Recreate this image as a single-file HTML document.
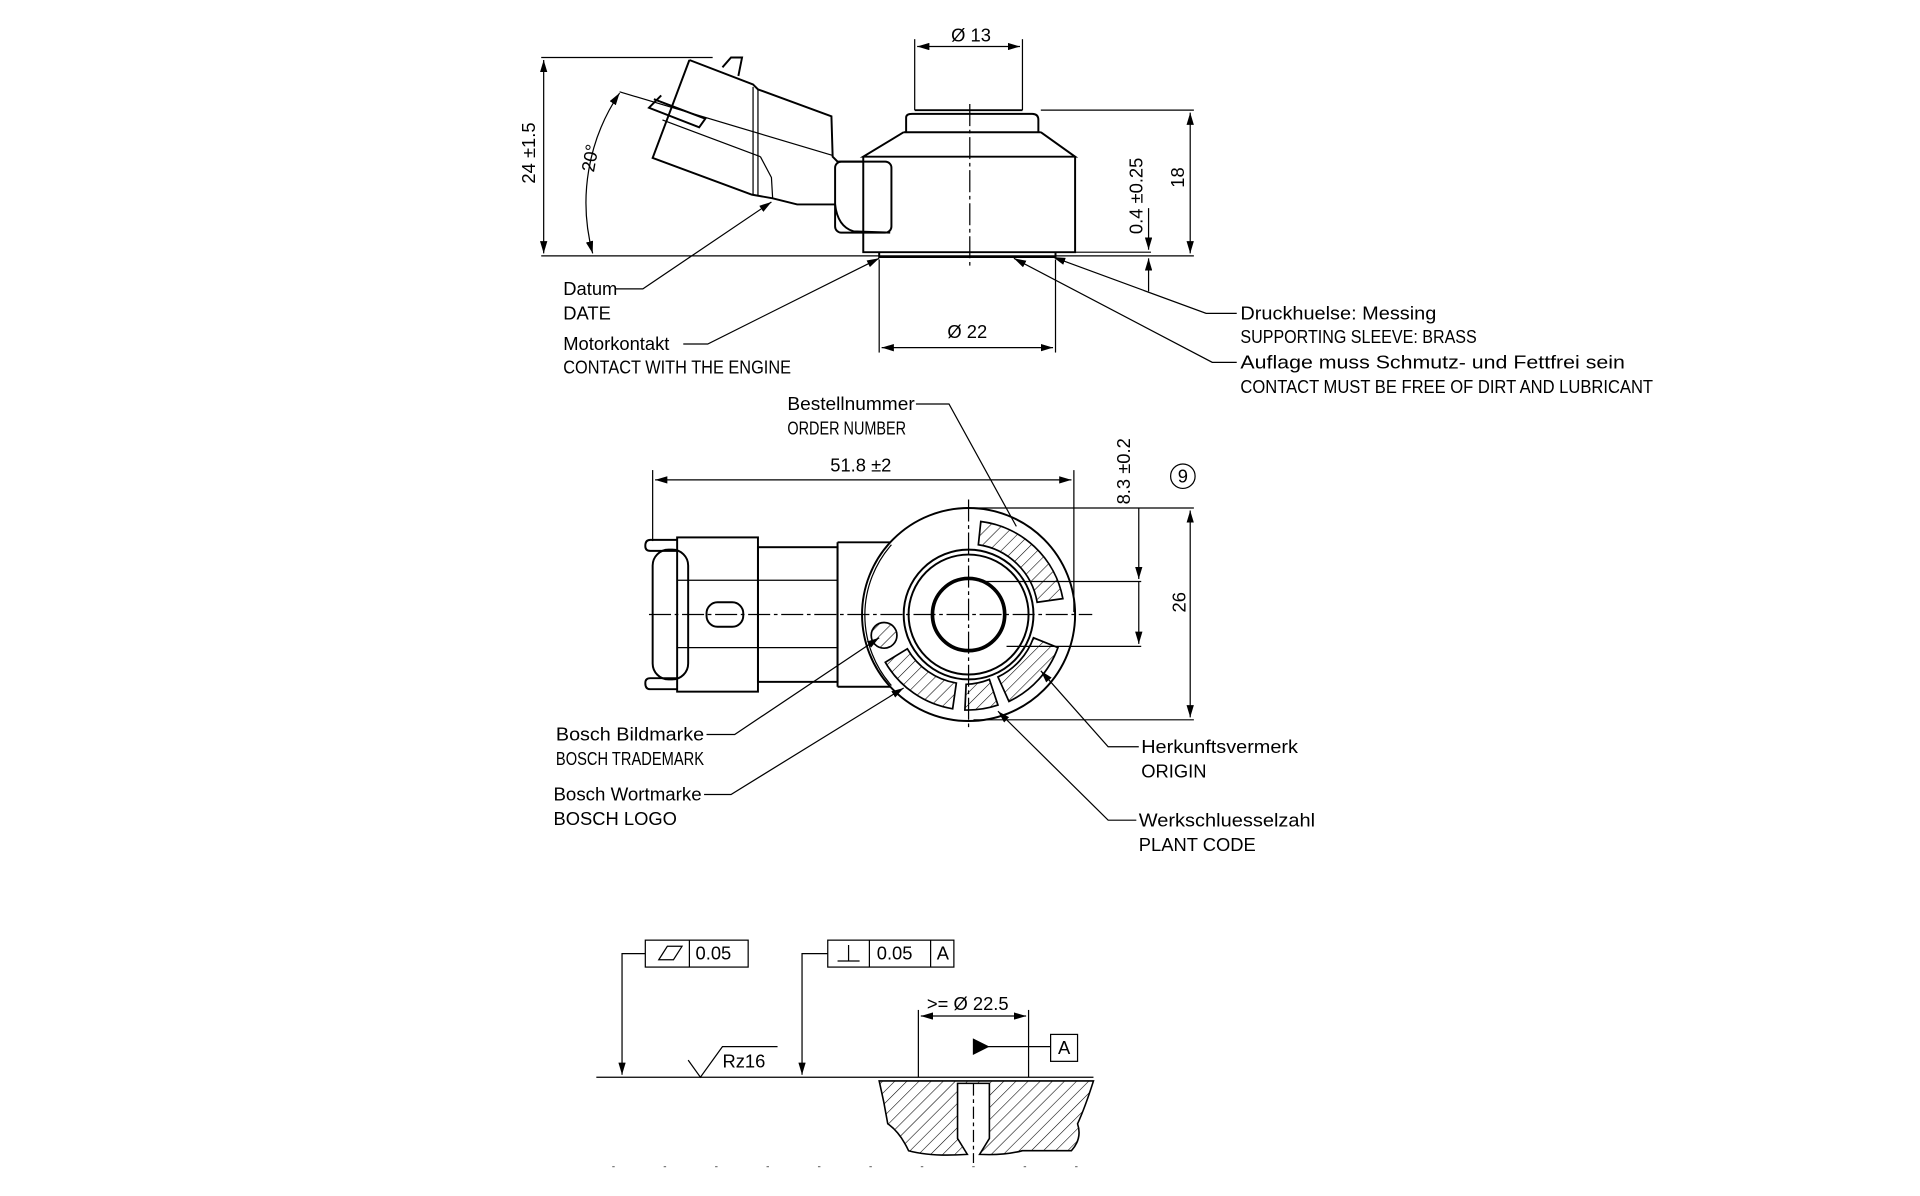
<!DOCTYPE html>
<html><head><meta charset="utf-8"><style>
html,body{margin:0;padding:0;background:#fff;}
svg{display:block;}
text{font-family:"Liberation Sans Narrow","Liberation Sans",sans-serif;font-size:15px;fill:#000;}
</style></head><body>
<svg width="1920" height="1196" viewBox="0 0 1568 977" preserveAspectRatio="none" xmlns="http://www.w3.org/2000/svg">
<defs>
<pattern id="h" patternUnits="userSpaceOnUse" width="7" height="7" patternTransform="rotate(45)"><line x1="0" y1="0" x2="0" y2="7" stroke="#000" stroke-width="0.9"/></pattern>
<marker id="a" viewBox="0 0 10 6" refX="10" refY="3" markerWidth="10" markerHeight="6" orient="auto-start-reverse" markerUnits="userSpaceOnUse"><path d="M0,0 L10,3 L0,6z" fill="#000"/></marker>
</defs>
<g fill="none" stroke="#000" stroke-width="1">
<!-- TOP VIEW -->
<line x1="442" y1="209" x2="975" y2="209"/>
<line x1="442" y1="47" x2="582" y2="47"/>
<line x1="444" y1="49" x2="444" y2="207" marker-start="url(#a)" marker-end="url(#a)"/>
<path d="M506,76 A160,160 0 0 0 484,207" marker-start="url(#a)" marker-end="url(#a)"/>
<line x1="747" y1="32" x2="747" y2="90"/><line x1="835" y1="32" x2="835" y2="90"/>
<line x1="749" y1="38" x2="833" y2="38" marker-start="url(#a)" marker-end="url(#a)"/>
<g stroke-width="1.6">
<path d="M747,90 H835 M740,108 V96 Q740,93 745,93 H843 Q848,93 848,98 V108 M738,108 H850 M738,108 L705,128 H878 L850,108 M705,128 V206 H878 V128 M718,206 V210 H862 V206"/>
<path d="M563,49 L615,69 L619,73 L679,95 L680,128 L684,132 L705,132"/>
<path d="M563,49 L533,129 L614,159 L631,162 L651,167 L682,167 Q684,185 697,189 L727,190"/>
<path d="M590,55 L597,47 L606,47 L603,62"/>
<path d="M540,78 L530,88 L571,104 L576,97 L534,81"/>
<rect x="682" y="132" width="46" height="58" rx="5"/>
</g>
<line x1="615" y1="71" x2="615" y2="159"/><line x1="619" y1="73" x2="619" y2="160"/>
<line x1="506" y1="75" x2="680" y2="127"/><line x1="541" y1="98" x2="621" y2="128"/>
<path d="M621,128 L630,145 L631,162"/>
<line x1="792" y1="85" x2="792" y2="218" stroke-dasharray="18,3,3,3"/>
<line x1="850" y1="90" x2="975" y2="90"/>
<line x1="972" y1="92" x2="972" y2="207" marker-start="url(#a)" marker-end="url(#a)"/>
<line x1="878" y1="206" x2="940" y2="206"/>
<line x1="938" y1="170" x2="938" y2="204" marker-end="url(#a)"/>
<line x1="938" y1="238" x2="938" y2="211" marker-end="url(#a)"/>
<line x1="718" y1="212" x2="718" y2="288"/><line x1="862" y1="212" x2="862" y2="288"/>
<line x1="720" y1="284" x2="860" y2="284" marker-start="url(#a)" marker-end="url(#a)"/>
<path d="M502,236 H525 L630,165" marker-end="url(#a)"/>
<path d="M558,281 H578 L718,211" marker-end="url(#a)"/>
<path d="M1010,256 H985 L860,210" marker-end="url(#a)"/>
<path d="M1010,296 H990 L828,211" marker-end="url(#a)"/>

<!-- MIDDLE VIEW -->
<path d="M748,330 H775 L830,430"/>
<line x1="533" y1="384" x2="533" y2="442"/><line x1="877" y1="384" x2="877" y2="500"/>
<line x1="535" y1="392" x2="875" y2="392" marker-start="url(#a)" marker-end="url(#a)"/>
<line x1="800" y1="475" x2="932" y2="475"/><line x1="822" y1="528" x2="932" y2="528"/>
<line x1="930" y1="415" x2="930" y2="473" marker-end="url(#a)"/>
<line x1="930" y1="475" x2="930" y2="526" marker-end="url(#a)"/>
<line x1="795" y1="415" x2="975" y2="415"/><line x1="795" y1="588" x2="975" y2="588"/>
<line x1="972" y1="417" x2="972" y2="586" marker-start="url(#a)" marker-end="url(#a)"/>
<circle cx="966" cy="389" r="10"/>
<line x1="530" y1="502" x2="892" y2="502" stroke-dasharray="18,3,3,3"/>
<line x1="791" y1="408" x2="791" y2="596" stroke-dasharray="18,3,3,3"/>
<g stroke-width="1.6">
<circle cx="791" cy="502" r="87"/>
<circle cx="791" cy="502" r="53"/>
<circle cx="791" cy="502" r="49"/>
<circle cx="791" cy="502" r="29.5" stroke-width="3"/>
<path d="M684,443 H727 M684,561 H727 M684,443 V561"/>
<rect x="619" y="447" width="65" height="110"/>
<rect x="553" y="439" width="66" height="126"/>
<path d="M553,441 H531 Q527,441 527,446 Q527,450 531,450 H553 M553,563 H531 Q527,563 527,558 Q527,554 531,554 H553"/>
<rect x="533" y="449" width="29" height="106" rx="13"/>
<rect x="577" y="492" width="30" height="20" rx="9"/>
</g>
<path d="M728,445 A87,87 0 0 0 728,560" />
<line x1="553" y1="474" x2="684" y2="474"/><line x1="553" y1="529" x2="684" y2="529"/>
<circle cx="722" cy="519" r="10.5" fill="url(#h)" stroke-width="1.4"/>
<g fill="url(#h)" stroke-width="1.4">
<path d="M801,426 A78,78 0 0 1 868,489 L847,492 A57,57 0 0 0 799,445Z"/>
<path d="M864,529 A78,78 0 0 1 824,573 L815,553 A57,57 0 0 0 844,521Z"/>
<path d="M788,580 A78,78 0 0 0 815,576 L808,555 A57,57 0 0 1 789,559Z"/>
<path d="M723,541 A78,78 0 0 0 778,579 L781,558 A57,57 0 0 1 741,530Z"/>
</g>
<path d="M577,600 H600 L718,521" marker-end="url(#a)"/>
<path d="M575,649 H597 L738,562" marker-end="url(#a)"/>
<path d="M930,610 H905 L850,548" marker-end="url(#a)"/>
<path d="M928,670 H905 L815,581" marker-end="url(#a)"/>

<!-- BOTTOM -->
<line x1="487" y1="880" x2="893" y2="880"/>
<rect x="527" y="768" width="84" height="22"/><line x1="563" y1="768" x2="563" y2="790"/>
<path d="M538,784 L545,773 H557 L550,784Z"/>
<path d="M527,779 H508 V878" marker-end="url(#a)"/>
<rect x="676" y="768" width="103" height="22"/><line x1="710" y1="768" x2="710" y2="790"/><line x1="760" y1="768" x2="760" y2="790"/>
<path d="M693,772 V785 M684,785 H702"/>
<path d="M676,779 H655 V878" marker-end="url(#a)"/>
<path d="M562,866 L572,880 L590,855 H635"/>
<line x1="750" y1="825" x2="750" y2="880"/><line x1="840" y1="825" x2="840" y2="880"/>
<line x1="752" y1="830" x2="838" y2="830" marker-start="url(#a)" marker-end="url(#a)"/>
<path d="M795,849 L807,855 L795,861Z" fill="#000"/>
<line x1="807" y1="855" x2="858" y2="855"/>
<rect x="858" y="845" width="22" height="22"/>
<path d="M718,883 H893 Q886,905 880,918 Q884,930 875,940 H835 Q820,944 800,943 L808,930 V885 H782 V930 L790,943 Q760,945 742,940 Q735,925 725,918 Q722,900 718,883Z" fill="url(#h)" stroke-width="1.3"/>
<line x1="795" y1="885" x2="795" y2="950" stroke-dasharray="10,3,3,3"/>
</g>
<g stroke="#000" stroke-width="1" stroke-dasharray="2,40" opacity="0.5"><line x1="500" y1="953" x2="890" y2="953"/></g>

<!-- TEXT -->
<text x="793" y="34" text-anchor="middle">Ø 13</text>
<text transform="translate(437,125) rotate(-90)" text-anchor="middle">24 ±1.5</text>
<text transform="translate(487,130) rotate(-80)" text-anchor="middle">20°</text>
<text transform="translate(967,145) rotate(-90)" text-anchor="middle">18</text>
<text transform="translate(933,160) rotate(-90)" text-anchor="middle" font-size="13">0.4 ±0.25</text>
<text x="790" y="276" text-anchor="middle">Ø 22</text>
<text x="460" y="241">Datum</text>
<text x="460" y="261">DATE</text>
<text x="460" y="286">Motorkontakt</text>
<text x="460" y="305" textLength="186" lengthAdjust="spacingAndGlyphs">CONTACT WITH THE ENGINE</text>
<text x="1013" y="261" textLength="160" lengthAdjust="spacingAndGlyphs">Druckhuelse: Messing</text>
<text x="1013" y="280" textLength="193" lengthAdjust="spacingAndGlyphs">SUPPORTING SLEEVE: BRASS</text>
<text x="1013" y="301" textLength="314" lengthAdjust="spacingAndGlyphs">Auflage muss Schmutz- und Fettfrei sein</text>
<text x="1013" y="321" textLength="337" lengthAdjust="spacingAndGlyphs">CONTACT MUST BE FREE OF DIRT AND LUBRICANT</text>
<text x="643" y="335" textLength="104" lengthAdjust="spacingAndGlyphs">Bestellnummer</text>
<text x="643" y="355" textLength="97" lengthAdjust="spacingAndGlyphs">ORDER NUMBER</text>
<text x="703" y="385" text-anchor="middle">51.8 ±2</text>
<text transform="translate(923,385) rotate(-90)" text-anchor="middle" font-size="14">8.3 ±0.2</text>
<text x="966" y="394" text-anchor="middle" font-size="13">9</text>
<text transform="translate(968,492) rotate(-90)" text-anchor="middle">26</text>
<text x="454" y="605" textLength="121" lengthAdjust="spacingAndGlyphs">Bosch Bildmarke</text>
<text x="454" y="625" textLength="121" lengthAdjust="spacingAndGlyphs">BOSCH TRADEMARK</text>
<text x="452" y="654" textLength="121" lengthAdjust="spacingAndGlyphs">Bosch Wortmarke</text>
<text x="452" y="674">BOSCH LOGO</text>
<text x="932" y="615" textLength="128" lengthAdjust="spacingAndGlyphs">Herkunftsvermerk</text>
<text x="932" y="635">ORIGIN</text>
<text x="930" y="675" textLength="144" lengthAdjust="spacingAndGlyphs">Werkschluesselzahl</text>
<text x="930" y="695">PLANT CODE</text>
<text x="568" y="784">0.05</text>
<text x="716" y="784">0.05</text>
<text x="765" y="784">A</text>
<text x="590" y="872">Rz16</text>
<text x="757" y="825" font-size="16">&gt;= Ø 22.5</text>
<text x="869" y="861" text-anchor="middle">A</text>
</svg>
</body></html>
